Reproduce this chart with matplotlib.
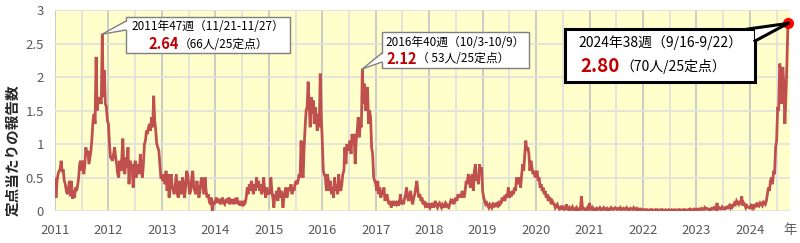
import numpy as np
import matplotlib
matplotlib.use('Agg')
import matplotlib.pyplot as plt
from matplotlib.patches import FancyBboxPatch, Polygon

plt.rcParams['font.family'] = ['Noto Sans CJK JP', 'DejaVu Sans']

# weekly reports per sentinel site, 2011 wk1 .. 2024 wk38
w2011 = [0.48, 0.20, 0.45, 0.55, 0.60, 0.62, 0.75, 0.58, 0.62, 0.45,
         0.40, 0.30, 0.25, 0.32, 0.45, 0.22, 0.45, 0.18, 0.30, 0.20,
         0.35, 0.30, 0.38, 0.50, 0.70, 0.75, 0.60, 0.75, 0.55, 0.68,
         0.95, 0.85, 0.90, 0.70, 0.80, 0.90, 1.10, 1.35, 1.45, 1.30,
         2.30, 1.50, 1.70, 1.60, 1.65, 1.60, 2.64, 1.70, 2.10, 1.60,
         1.55, 1.35]
w2012 = [1.30, 1.00, 0.80, 0.78, 0.75, 0.85, 0.95, 0.80, 0.70, 0.55,
         0.50, 0.75, 0.60, 0.80, 1.08, 0.60, 0.55, 0.80, 0.65, 0.95,
         0.40, 0.75, 0.65, 0.70, 0.35, 0.60, 0.75, 0.50, 0.70, 0.65,
         0.55, 0.85, 0.60, 0.50, 0.70, 1.00, 1.05, 1.20, 1.15, 1.25,
         1.30, 1.20, 1.40, 1.25, 1.72, 1.35, 1.20, 1.00, 0.95, 0.90,
         0.70, 0.50]
w2013 = [0.50, 0.45, 0.55, 0.40, 0.60, 0.30, 0.55, 0.20, 0.45, 0.55,
         0.35, 0.30, 0.25, 0.40, 0.55, 0.25, 0.20, 0.45, 0.30, 0.25,
         0.50, 0.40, 0.20, 0.35, 0.60, 0.55, 0.40, 0.25, 0.30, 0.50,
         0.60, 0.35, 0.30, 0.25, 0.45, 0.35, 0.20, 0.30, 0.45, 0.50,
         0.35, 0.25, 0.50, 0.30, 0.20, 0.25, 0.15, 0.10, 0.20, 0.00,
         0.15, 0.10]
w2014 = [0.15, 0.20, 0.12, 0.15, 0.18, 0.10, 0.15, 0.20, 0.12, 0.10,
         0.15, 0.18, 0.12, 0.20, 0.10, 0.15, 0.12, 0.18, 0.10, 0.15,
         0.12, 0.20, 0.10, 0.15, 0.08, 0.12, 0.10, 0.15, 0.10, 0.12,
         0.20, 0.35, 0.25, 0.40, 0.30, 0.45, 0.35, 0.25, 0.40, 0.30,
         0.50, 0.35, 0.45, 0.30, 0.40, 0.25, 0.35, 0.50, 0.30, 0.20,
         0.35, 0.25]
w2015 = [0.30, 0.25, 0.50, 0.30, 0.20, 0.05, 0.25, 0.20, 0.30, 0.15,
         0.35, 0.20, 0.30, 0.25, 0.05, 0.20, 0.30, 0.35, 0.20, 0.30,
         0.35, 0.30, 0.40, 0.25, 0.35, 0.30, 0.40, 0.45, 0.40, 0.45,
         0.55, 0.50, 1.05, 0.60, 0.50, 0.95, 1.25, 1.50, 1.55, 1.93,
         1.60, 1.25, 1.70, 1.45, 1.65, 1.30, 1.55, 1.40, 1.20, 1.45,
         1.25, 2.05, 1.40]
w2016 = [1.05, 0.60, 0.55, 0.50, 0.30, 0.55, 0.45, 0.30, 0.45, 0.25,
         0.35, 0.20, 0.50, 0.30, 0.40, 0.25, 0.55, 0.35, 0.30, 0.40,
         0.55, 0.60, 0.95, 0.70, 1.00, 0.90, 0.95, 1.05, 0.85, 1.15,
         1.00, 1.15, 0.70, 1.05, 1.20, 1.40, 1.10, 1.30, 1.25, 2.12,
         1.60, 1.90, 1.50, 1.70, 1.85, 1.30, 1.50, 1.40, 0.95, 0.85,
         0.50, 0.45]
w2017 = [0.40, 0.30, 0.45, 0.25, 0.35, 0.20, 0.30, 0.25, 0.35, 0.15,
         0.20, 0.25, 0.15, 0.10, 0.15, 0.05, 0.10, 0.15, 0.08, 0.12,
         0.10, 0.15, 0.08, 0.12, 0.25, 0.10, 0.15, 0.10, 0.18, 0.25,
         0.35, 0.20, 0.15, 0.25, 0.30, 0.15, 0.10, 0.20, 0.25, 0.35,
         0.45, 0.30, 0.20, 0.25, 0.15, 0.20, 0.10, 0.15, 0.08, 0.10,
         0.05, 0.10]
w2018 = [0.10, 0.05, 0.08, 0.12, 0.05, 0.10, 0.15, 0.08, 0.05, 0.10,
         0.12, 0.08, 0.05, 0.10, 0.08, 0.05, 0.12, 0.10, 0.06, 0.05,
         0.10, 0.15, 0.12, 0.18, 0.10, 0.15, 0.20, 0.15, 0.25, 0.20,
         0.25, 0.20, 0.30, 0.25, 0.20, 0.30, 0.45, 0.40, 0.55, 0.50,
         0.35, 0.50, 0.55, 0.30, 0.60, 0.70, 0.45, 0.50, 0.40, 0.70,
         0.55, 0.65]
w2019 = [0.30, 0.20, 0.15, 0.10, 0.12, 0.08, 0.05, 0.10, 0.08, 0.05,
         0.10, 0.08, 0.12, 0.06, 0.10, 0.08, 0.15, 0.10, 0.12, 0.20,
         0.15, 0.20, 0.18, 0.25, 0.20, 0.35, 0.20, 0.25, 0.22, 0.30,
         0.25, 0.35, 0.30, 0.50, 0.45, 0.40, 0.50, 0.35, 0.55, 0.70,
         0.60, 0.85, 1.05, 0.90, 0.95, 0.85, 0.60, 0.75, 0.65, 0.55,
         0.60, 0.50]
w2020 = [0.55, 0.60, 0.45, 0.50, 0.35, 0.40, 0.30, 0.35, 0.25, 0.30,
         0.20, 0.25, 0.15, 0.20, 0.18, 0.10, 0.15, 0.12, 0.10, 0.05,
         0.08, 0.10, 0.05, 0.03, 0.05, 0.02, 0.08, 0.03, 0.02, 0.05,
         0.10, 0.03, 0.02, 0.05, 0.02, 0.03, 0.06, 0.02, 0.03, 0.02,
         0.05, 0.02, 0.03, 0.02, 0.05, 0.22, 0.03, 0.04, 0.02, 0.03,
         0.02, 0.05, 0.03]
w2021 = [0.12, 0.03, 0.02, 0.05, 0.02, 0.03, 0.02, 0.04, 0.02, 0.03,
         0.05, 0.02, 0.03, 0.02, 0.05, 0.03, 0.02, 0.04, 0.02, 0.03,
         0.02, 0.05, 0.03, 0.02, 0.04, 0.05, 0.03, 0.02, 0.04, 0.03,
         0.05, 0.02, 0.03, 0.04, 0.02, 0.03, 0.05, 0.02, 0.03, 0.02,
         0.04, 0.03, 0.02, 0.05, 0.03, 0.02, 0.04, 0.02, 0.03, 0.02,
         0.03, 0.02]
w2022 = [0.02, 0.01, 0.02, 0.01, 0.02, 0.01, 0.01, 0.02, 0.01, 0.02,
         0.01, 0.01, 0.02, 0.01, 0.02, 0.01, 0.01, 0.02, 0.01, 0.02,
         0.01, 0.01, 0.02, 0.01, 0.01, 0.02, 0.01, 0.01, 0.02, 0.01,
         0.01, 0.02, 0.01, 0.01, 0.02, 0.01, 0.02, 0.01, 0.01, 0.02,
         0.01, 0.02, 0.01, 0.01, 0.02, 0.01, 0.03, 0.02, 0.01, 0.02,
         0.03, 0.02]
w2023 = [0.02, 0.03, 0.02, 0.03, 0.02, 0.04, 0.03, 0.02, 0.05, 0.03,
         0.04, 0.03, 0.02, 0.03, 0.02, 0.04, 0.03, 0.05, 0.03, 0.02,
         0.12, 0.03, 0.05, 0.04, 0.03, 0.06, 0.04, 0.03, 0.05, 0.04,
         0.06, 0.05, 0.08, 0.05, 0.10, 0.06, 0.08, 0.12, 0.10, 0.15,
         0.12, 0.10, 0.15, 0.10, 0.22, 0.08, 0.12, 0.10, 0.05, 0.08,
         0.06, 0.05]
w2024 = [0.05, 0.08, 0.05, 0.10, 0.05, 0.08, 0.10, 0.06, 0.10, 0.08,
         0.12, 0.10, 0.08, 0.15, 0.12, 0.10, 0.15, 0.25, 0.35, 0.30,
         0.45, 0.50, 0.40, 0.60, 0.55, 0.95, 1.05, 1.55, 1.50, 2.20,
         2.10, 1.60, 2.15, 1.90, 1.30, 1.70, 2.20, 2.80]

years = list(range(2011, 2025))
weekly = [w2011, w2012, w2013, w2014, w2015, w2016, w2017, w2018,
          w2019, w2020, w2021, w2022, w2023, w2024]
y_ticks = [0, 0.5, 1, 1.5, 2, 2.5, 3]
y_tick_labels = ['0', '0.5', '1', '1.5', '2', '2.5', '3']

# callouts: (year, week, headline, value text, count text)
callouts = [
    (2011, 47, '2011年47週（11/21-11/27）', '2.64', '（66人/25定点）'),
    (2016, 40, '2016年40週（10/3-10/9）', '2.12', '（ 53人/25定点）'),
    (2024, 38, '2024年38週（9/16-9/22）', '2.80', '（70人/25定点）'),
]

# build a continuous x axis (fractional year)
xs, ys = [], []
for yr, vals in zip(years, weekly):
    n = 53 if len(vals) == 53 else 52
    for i, v in enumerate(vals):
        xs.append(yr + i / n)
        ys.append(v)
xs = np.array(xs)
ys = np.array(ys)

W, H = 800, 243
fig = plt.figure(figsize=(W / 100, H / 100), dpi=100)
fig.patch.set_facecolor('white')
ax = fig.add_axes([55 / W, 1 - 211 / H, 735 / W, 201 / H])
ax.set_facecolor('#FFFFCC')

ax.plot(xs, ys, color='#C0504D', lw=2, zorder=3, solid_joinstyle='miter')
ax.plot(xs[-1], ys[-1], 'o', color='#FF0000', ms=7, zorder=6, clip_on=False)

ax.set_xlim(2011, 2024.75)
ax.set_ylim(0, 3)
ax.set_xticks(years)
ax.set_xticks([y + 0.5 for y in years], minor=True)
ax.set_xticklabels([str(y) for y in years])
ax.set_yticks(y_ticks)
ax.set_yticklabels(y_tick_labels)
ax.grid(axis='x', which='major', color='#C8C8C8', lw=1.3)
ax.grid(axis='x', which='minor', color='#E2E2DA', lw=1.3)
ax.grid(axis='y', which='major', color='#E2E2DA', lw=1.3)
ax.set_axisbelow(True)
ax.tick_params(which='both', length=0, labelsize=9.5, labelcolor='#595959')
ax.tick_params(axis='x', pad=9)
ax.tick_params(axis='y', pad=8)
for s in ax.spines.values():
    s.set_visible(False)

fig.text(12 / W, 1 - 150 / H, '定点当たりの報告数', rotation=90, ha='center',
         va='center', fontsize=10.5, fontweight='bold', color='#262626')
fig.text(790 / W, 1 - 230 / H, '年', ha='center', va='center',
         fontsize=9.5, color='#595959')


def fp(x, y):
    # pixel (from top-left) -> figure fraction
    return (x / W, 1 - y / H)


def data_fp(x, y):
    return tuple(fig.transFigure.inverted().transform(ax.transData.transform((x, y))))


# box geometry in pixels: left, top, right, bottom, line1 y, line2 y, split x, base points
boxes = [
    dict(l=126, t=17, r=290, b=53, y1=26, y2=44, split=179,
         base=[(126, 21), (126, 30)], fs1=8.5, fs_num=10.5, fs2=8.5,
         ec='#7F7F7F', lw=1),
    dict(l=382, t=32, r=529, b=68, y1=42, y2=59, split=417,
         base=[(382, 53), (382, 62)], fs1=8.5, fs_num=10.5, fs2=8.5,
         ec='#7F7F7F', lw=1),
    dict(l=565, t=29, r=755, b=82, y1=43, y2=67, split=620,
         base=[(748, 29), (755, 41)], fs1=10, fs_num=13.5, fs2=10,
         ec='black', lw=2.2),
]

for (yr, wk, head, num, cnt), bx in zip(callouts, boxes):
    vals = weekly[years.index(yr)]
    n = 53 if len(vals) == 53 else 52
    tip = data_fp(yr + (wk - 1) / n, vals[wk - 1])

    x0, y0 = fp(bx['l'], bx['b'])
    x1, y1 = fp(bx['r'], bx['t'])
    box = FancyBboxPatch((x0, y0), x1 - x0, y1 - y0, boxstyle='square,pad=0',
                         transform=fig.transFigure, fc='white', ec=bx['ec'],
                         lw=bx['lw'], zorder=10)
    fig.add_artist(box)

    b1 = fp(*bx['base'][0])
    b2 = fp(*bx['base'][1])
    if bx['base'][0][0] == bx['base'][1][0]:
        # tail on left edge
        inset = 2 / W
        poly = [(b1[0] + inset, b1[1]), tip, (b2[0] + inset, b2[1])]
    else:
        corner = fp(bx['r'], bx['t'])
        poly = [b1, tip, b2, corner]
    fig.add_artist(Polygon(poly, closed=True, transform=fig.transFigure,
                           fc='white', ec='none', zorder=11))
    for b in (b1, b2):
        fig.add_artist(plt.Line2D([b[0], tip[0]], [b[1], tip[1]],
                                  transform=fig.transFigure, color=bx['ec'],
                                  lw=bx['lw'], zorder=12))

    cx = (bx['l'] + bx['r']) / 2
    fig.text(*fp(cx, bx['y1']), head, ha='center', va='center',
             fontsize=bx['fs1'], color='black', zorder=13)
    fig.text(*fp(bx['split'], bx['y2']), num, ha='right', va='center',
             fontsize=bx['fs_num'], fontweight='bold', color='#C00000', zorder=13)
    fig.text(*fp(bx['split'], bx['y2']), cnt, ha='left', va='center',
             fontsize=bx['fs2'], color='black', zorder=13)

fig.savefig('out.png', dpi=100, facecolor='white')
